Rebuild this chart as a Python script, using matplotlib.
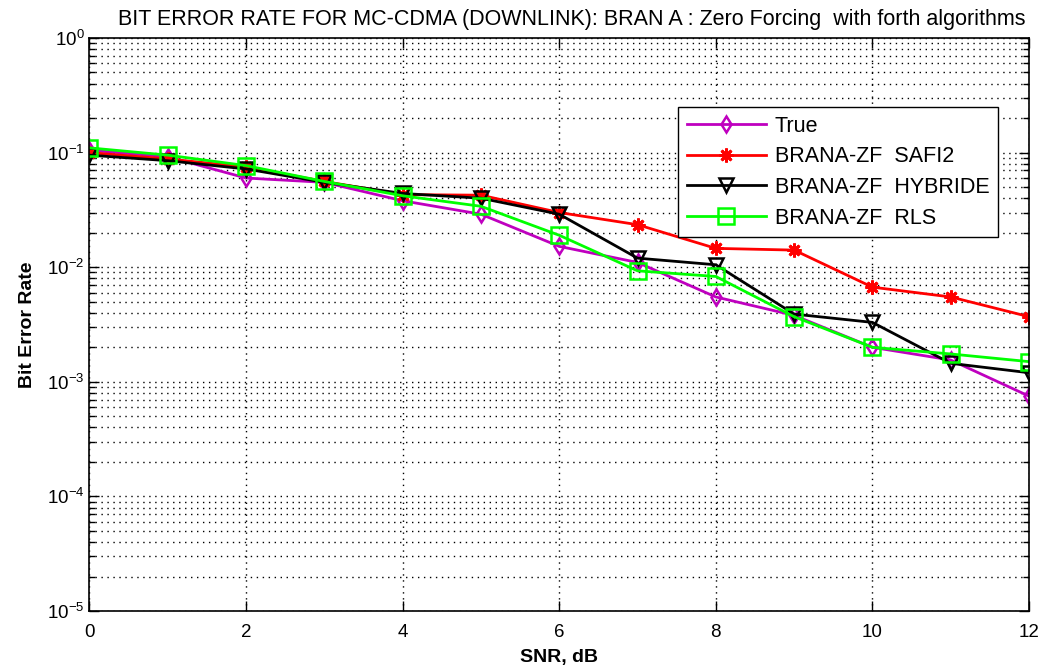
import matplotlib
matplotlib.use("Agg")
import matplotlib.pyplot as plt
from matplotlib import font_manager
from matplotlib.ticker import LogLocator, NullFormatter, FixedLocator

# SNR points (dB)
snr = [0, 1, 2, 3, 4, 5, 6, 7, 8, 9, 10, 11, 12]

# Bit error rate per receiver
ber_true = [0.105, 0.092, 0.060, 0.055, 0.038, 0.029, 0.0152, 0.011, 0.0055,
            0.0038, 0.0020, 0.00155, 0.00075]
ber_safi2 = [0.100, 0.088, 0.075, 0.056, 0.043, 0.0425, 0.030, 0.0235, 0.0146,
             0.0141, 0.0067, 0.0055, 0.0037]
ber_hybride = [0.095, 0.085, 0.072, 0.055, 0.044, 0.040, 0.029, 0.012, 0.0105,
               0.0039, 0.0033, 0.00145, 0.0012]
ber_rls = [0.110, 0.095, 0.077, 0.056, 0.042, 0.034, 0.019, 0.0093, 0.0083,
           0.0037, 0.0020, 0.00175, 0.0015]

series_labels = ["True", "BRANA-ZF  SAFI2", "BRANA-ZF  HYBRIDE", "BRANA-ZF  RLS"]
xticks = [0, 2, 4, 6, 8, 10, 12]

title_text = "BIT ERROR RATE FOR MC-CDMA (DOWNLINK): BRAN A : Zero Forcing  with forth algorithms"

names = {f.name for f in font_manager.fontManager.ttflist}
base_font = "Liberation Sans" if "Liberation Sans" in names else "DejaVu Sans"
plt.rcParams["font.family"] = [base_font, "DejaVu Sans"]

fig = plt.figure(figsize=(10.39, 6.70), dpi=100)
ax = fig.add_axes([0.0861, 0.088, 0.9043, 0.8553])

lw = 2.0
ax.semilogy(snr, ber_true, color="#BF00BF", lw=lw, marker="d", ms=8,
            mfc="none", mew=1.8, label=series_labels[0])
ax.semilogy(snr, ber_safi2, color="#FF0000", lw=lw, marker=(8, 2, 0), ms=10,
            mfc="#FF0000", mew=2.0, label=series_labels[1])
ax.semilogy(snr, ber_hybride, color="black", lw=lw, marker="v", ms=10,
            mfc="none", mew=1.8, label=series_labels[2])
ax.semilogy(snr, ber_rls, color="#00FF00", lw=lw, marker="s", ms=11,
            mfc="none", mew=1.8, label=series_labels[3])

ax.set_xlim(0, 12)
ax.set_ylim(1e-5, 1)
ax.xaxis.set_major_locator(FixedLocator(xticks))
ax.set_xticklabels([str(t) for t in xticks])
ax.yaxis.set_major_locator(LogLocator(base=10, numticks=10))
ax.yaxis.set_minor_locator(LogLocator(base=10, subs=range(2, 10), numticks=20))
ax.yaxis.set_minor_formatter(NullFormatter())

dots = (0, (1, 3.3))
ax.grid(True, which="major", axis="both", linestyle=dots, color="black", lw=1.0)
ax.grid(True, which="minor", axis="y", linestyle=dots, color="black", lw=1.0)

ax.tick_params(which="both", direction="in", top=True, right=True, labelsize=13.5,
               colors="black")
ax.tick_params(which="major", length=7, width=1)
ax.tick_params(which="minor", length=4, width=1)
for s in ax.spines.values():
    s.set_linewidth(1.2)
ax.tick_params(axis="x", pad=9)

ax.set_xlabel("SNR, dB", fontsize=14, fontweight="bold", labelpad=6)
ax.set_ylabel("Bit Error Rate", fontsize=14, fontweight="bold", labelpad=8)
ax.set_title(title_text, fontsize=15.5, pad=9, x=0.513)

leg = ax.legend(loc="upper right", bbox_to_anchor=(0.967, 0.8796), fontsize=15.5,
                frameon=True, fancybox=False, edgecolor="black", framealpha=1,
                handlelength=3.7, borderpad=0.4, labelspacing=0.45,
                handletextpad=0.4, borderaxespad=0)
leg.get_frame().set_linewidth(1.0)

fig.savefig("out.png", dpi=100)
